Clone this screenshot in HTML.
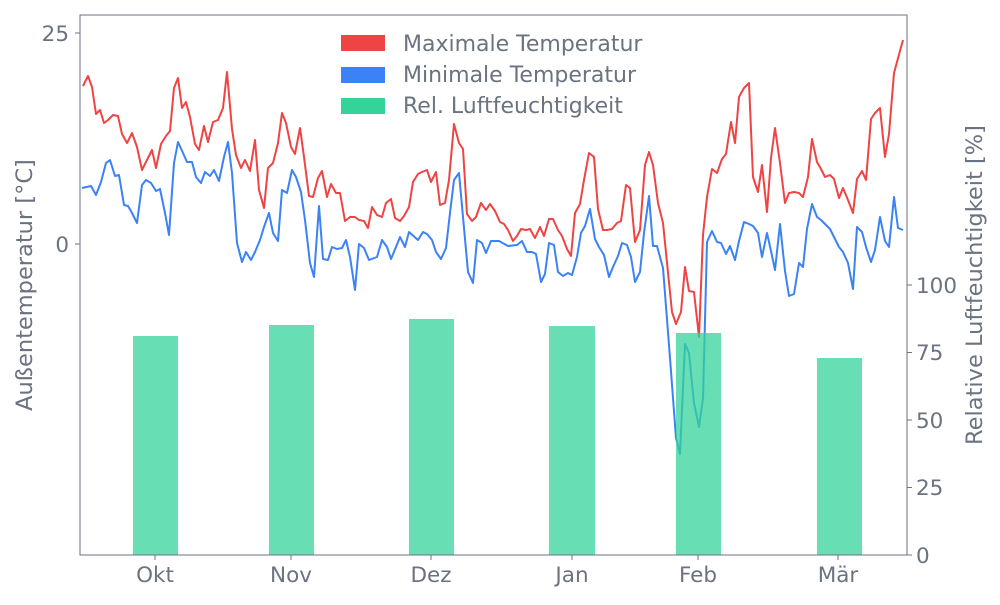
<!DOCTYPE html>
<html><head><meta charset="utf-8"><style>body{margin:0;background:#fff}</style></head><body>
<svg width="1000" height="600" xmlns="http://www.w3.org/2000/svg" font-family="DejaVu Sans, Liberation Sans, sans-serif" fill="#6b7280">
<rect width="1000" height="600" fill="#fff"/>
<polyline fill="none" stroke="#ef4444" stroke-width="2" stroke-linejoin="round" points="83,86 88,76 92,87 96,114 100,110 104,123 108,120 113,115 118,116 122,134 127,143 132,133 137,147 142,170 147,160 152,150 156,168 161,144 166,136 170,131 174,88 178,78 182,108 186,102 190,117 195,144 199,150 204,126 208,142 213,122 218,120 223,108 227,72 232,129 236,155 241,168 245,160 250,171 255,140 259,190 264,208 268,168 273,163 278,143 282,113 286,123 291,147 295,154 300,128 304,157 309,196 313,197 318,178 322,171 327,197 331,184 336,193 340,193 345,221 350,217 355,217 359,220 364,221 368,228 372,207 377,215 382,217 386,203 391,199 395,218 400,221 404,216 409,207 413,182 418,174 422,172 427,170 431,182 436,172 440,205 445,203 449,180 454,124 459,143 463,149 467,214 472,221 476,217 481,203 486,210 490,204 495,211 500,222 504,224 508,230 513,241 517,236 521,229 526,230 530,229 535,238 540,227 544,236 549,219 553,219 558,230 562,236 567,249 571,256 575,213 580,204 584,180 589,153 594,157 598,209 603,230 607,230 612,229 617,223 621,221 626,185 630,188 635,242 640,230 645,165 649,152 653,165 658,203 663,223 672,312 676,324 681,312 685,267 689,291 694,292 699,337 703,235 707,197 712,169 717,173 722,159 726,154 731,122 735,143 739,97 744,88 749,83 753,177 758,192 762,165 767,212 771,158 775,128 780,163 785,203 789,193 794,192 799,193 803,197 808,177 812,139 817,162 821,169 825,177 830,175 834,179 839,198 843,188 848,200 853,213 857,179 862,171 866,180 871,119 875,113 880,108 885,157 889,134 894,73 903,40"/>
<polyline fill="none" stroke="#3b82f6" stroke-width="2" stroke-linejoin="round" points="82,188 91,186 96,195 101,182 106,163 110,160 115,176 119,175 124,205 128,206 132,213 137,223 142,185 146,180 151,183 156,191 160,189 165,213 169,235 174,163 178,142 183,153 187,162 192,162 196,177 201,183 205,172 210,176 214,170 219,181 224,157 228,142 232,173 237,243 242,262 246,252 251,260 255,252 260,240 264,227 269,213 273,233 278,241 282,190 287,193 292,170 296,177 301,192 305,220 310,263 314,277 319,206 323,259 328,260 332,247 337,249 342,248 346,240 350,257 355,290 359,244 364,248 369,260 377,257 382,240 387,247 391,259 396,247 400,237 405,247 409,232 418,240 423,232 427,234 432,240 436,252 441,259 446,248 450,213 454,180 459,173 463,217 468,272 473,283 477,240 482,243 486,253 491,241 499,241 508,246 517,245 522,241 527,252 532,252 536,254 541,282 545,274 549,243 554,245 558,272 563,276 568,273 572,275 577,257 581,233 585,226 590,209 595,239 599,247 604,255 609,277 613,267 618,256 622,243 627,245 631,257 635,282 640,272 644,233 649,196 653,246 657,246 663,268 670,358 676,438 680,454 685,344 689,353 694,403 699,427 703,398 707,242 712,231 717,242 721,243 726,254 730,246 735,260 739,241 744,222 749,224 753,226 758,233 762,257 767,233 771,251 775,270 780,224 785,271 789,296 794,294 799,263 803,267 807,229 812,204 817,217 821,220 825,224 830,229 834,237 839,247 843,252 848,263 853,289 857,227 862,232 866,247 871,262 875,250 880,217 885,241 889,247 894,197 898,228 903,230"/>
<g fill="#34d399" fill-opacity="0.75">
<rect x="133" y="336" width="45" height="219"/>
<rect x="269" y="325" width="45" height="230"/>
<rect x="409" y="319" width="45" height="236"/>
<rect x="549" y="326" width="46" height="229"/>
<rect x="676" y="333" width="45" height="222"/>
<rect x="817" y="358" width="45" height="197"/>
</g>
<rect x="80" y="15" width="827" height="540" fill="none" stroke="#6b7280" stroke-width="1"/>
<g stroke="#6b7280" stroke-width="1">
<line x1="75" y1="33" x2="80" y2="33"/><line x1="75" y1="244" x2="80" y2="244"/>
<line x1="907" y1="555" x2="912" y2="555"/><line x1="907" y1="487.5" x2="912" y2="487.5"/><line x1="907" y1="420" x2="912" y2="420"/><line x1="907" y1="352.5" x2="912" y2="352.5"/><line x1="907" y1="285" x2="912" y2="285"/>
<line x1="155" y1="555" x2="155" y2="560"/><line x1="291" y1="555" x2="291" y2="560"/><line x1="431" y1="555" x2="431" y2="560"/><line x1="572" y1="555" x2="572" y2="560"/><line x1="698" y1="555" x2="698" y2="560"/><line x1="838" y1="555" x2="838" y2="560"/>
</g>
<g font-size="21.5">
<text x="69" y="41" text-anchor="end">25</text>
<text x="69" y="252" text-anchor="end">0</text>
<g text-anchor="start"><text x="916" y="563">0</text><text x="916" y="495">25</text><text x="916" y="428">50</text><text x="916" y="360">75</text><text x="916" y="293">100</text></g>
<g text-anchor="middle"><text x="155" y="582">Okt</text><text x="291" y="582">Nov</text><text x="431" y="582">Dez</text><text x="572" y="582">Jan</text><text x="698" y="582">Feb</text><text x="838" y="582">Mär</text></g>
</g>
<g font-size="22.5">
<text transform="translate(32,285) rotate(-90)" text-anchor="middle">Außentemperatur [°C]</text>
<text transform="translate(982,285) rotate(-90)" text-anchor="middle">Relative Luftfeuchtigkeit [%]</text>
</g>
<g font-size="22">
<rect x="341" y="35" width="44" height="16" fill="#ef4444"/><text x="403" y="51">Maximale Temperatur</text>
<rect x="341" y="67" width="44" height="16" fill="#3b82f6"/><text x="403" y="82">Minimale Temperatur</text>
<rect x="341" y="98" width="44" height="16" fill="#34d399"/><text x="403" y="113">Rel. Luftfeuchtigkeit</text>
</g>
</svg>
</body></html>
